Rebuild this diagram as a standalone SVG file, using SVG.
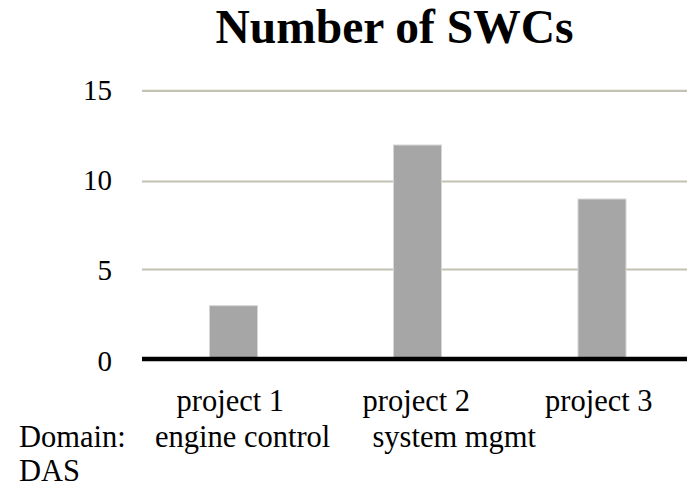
<svg xmlns="http://www.w3.org/2000/svg" width="687" height="487" viewBox="0 0 687 487">
<style>
text{font-family:"Liberation Serif","Times New Roman",serif;fill:#000}
.title{font-size:47.5px;font-weight:bold;text-anchor:middle}
.ax{font-size:29px;text-anchor:end}
.lbl{font-size:30.5px}
.grid{stroke:#c4c2b2;stroke-width:2.2}
.bar{fill:#a6a6a6;stroke:#d6d6d6;stroke-width:1}
</style>
<rect width="687" height="487" fill="#fff"/>
<text class="title" x="394.5" y="43">Number of SWCs</text>
<g id="grid">
<line class="grid" x1="142" y1="90.8" x2="687" y2="90.8"/>
<line class="grid" x1="142" y1="181.5" x2="687" y2="181.5"/>
<line class="grid" x1="142" y1="269.5" x2="687" y2="269.5"/>
</g>
<g id="axis-labels">
<text class="ax" x="112" y="99.5">15</text>
<text class="ax" x="112" y="190">10</text>
<text class="ax" x="112" y="280.3">5</text>
<text class="ax" x="112" y="370.7">0</text>
</g>
<g id="bars">
<rect id="bar1" class="bar" x="209.5" y="305.7" width="48" height="53"/>
<rect id="bar2" class="bar" x="393.5" y="145" width="48" height="213.7"/>
<rect id="bar3" class="bar" x="578" y="199" width="48" height="159.7"/>
</g>
<line id="baseline" x1="142" y1="359" x2="687" y2="359" stroke="#000" stroke-width="4.5"/>
<g id="categories">
<text class="lbl" x="176.5" y="410.5">project 1</text>
<text class="lbl" x="362.5" y="410.5">project 2</text>
<text class="lbl" x="545" y="410.5">project 3</text>
<text class="lbl" x="19" y="446.7">Domain:</text>
<text class="lbl" x="155" y="446.7">engine control</text>
<text class="lbl" x="372.5" y="446.7">system mgmt</text>
<text class="lbl" x="19" y="481">DAS</text>
</g>
</svg>
